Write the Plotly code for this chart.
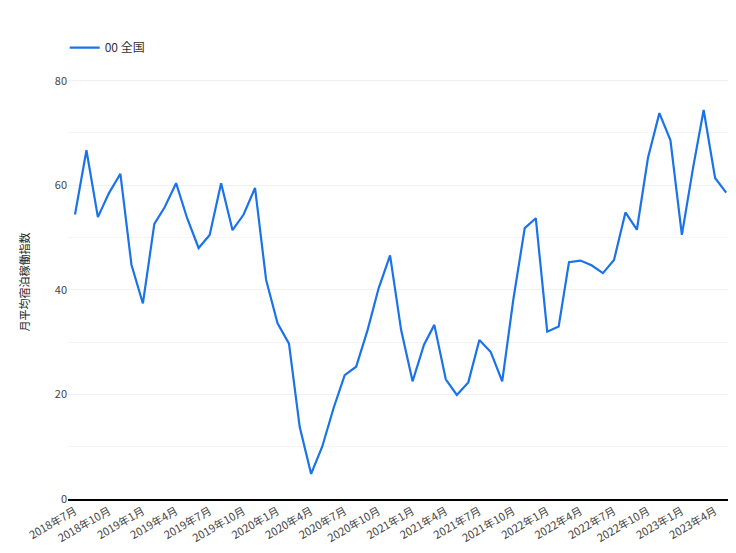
import plotly.graph_objects as go
import pandas as pd

months = pd.date_range("2018-07-01", periods=59, freq="MS")
values = [54.4, 66.7, 53.9, 58.5, 62.2, 44.8, 37.4, 52.6, 55.8, 60.4, 53.7, 48.0,
          50.5, 60.4, 51.4, 54.4, 59.5, 41.9, 33.6, 29.7, 13.8, 4.8, 10.0, 17.4,
          23.7, 25.3, 32.3, 40.3, 46.6, 32.3, 22.5, 29.5, 33.3, 22.9, 19.9, 22.3,
          30.4, 28.1, 22.5, 38.1, 51.8, 53.7, 32.0, 33.0, 45.3, 45.6, 44.7, 43.2,
          45.7, 54.8, 51.5, 65.2, 73.8, 68.6, 50.5, 63.6, 74.4, 61.4, 58.6]
tick_dates = months[::3]
tick_labels = [f"{d.year}年{d.month}月" for d in tick_dates]

fig = go.Figure(go.Scatter(x=months, y=values, mode="lines", name="00 全国",
                           line=dict(color="#1a73e8", width=2.2)))
fig.update_layout(
    width=736, height=553, plot_bgcolor="white", paper_bgcolor="white",
    font=dict(family="Noto Sans CJK JP, Roboto", size=11, color="#333"),
    margin=dict(l=60, r=16, t=57, b=62),
    showlegend=True,
    legend=dict(orientation="h", x=-0.005, y=1.04, xanchor="left", yanchor="middle",
                font=dict(size=12, color="#333")),
    xaxis=dict(tickvals=tick_dates, ticktext=tick_labels, tickangle=-30,
               range=[months[0] - pd.Timedelta(days=19), months[-1] + pd.Timedelta(days=5)],
               showgrid=False, showline=True, linecolor="black", linewidth=1.5,
               ticks="", tickfont=dict(size=11, color="#444")),
    yaxis=dict(range=[0, 83], tickvals=[0, 20, 40, 60, 80], showline=False,
               gridcolor="#f0f0f0", zeroline=False,
               minor=dict(dtick=10, showgrid=True, gridcolor="#f4f4f4"),
               title=dict(text="月平均宿泊稼働指数", font=dict(size=11, color="#222"), standoff=22),
               tickfont=dict(size=11, color="#444")),
)
fig.write_html("out.html")
